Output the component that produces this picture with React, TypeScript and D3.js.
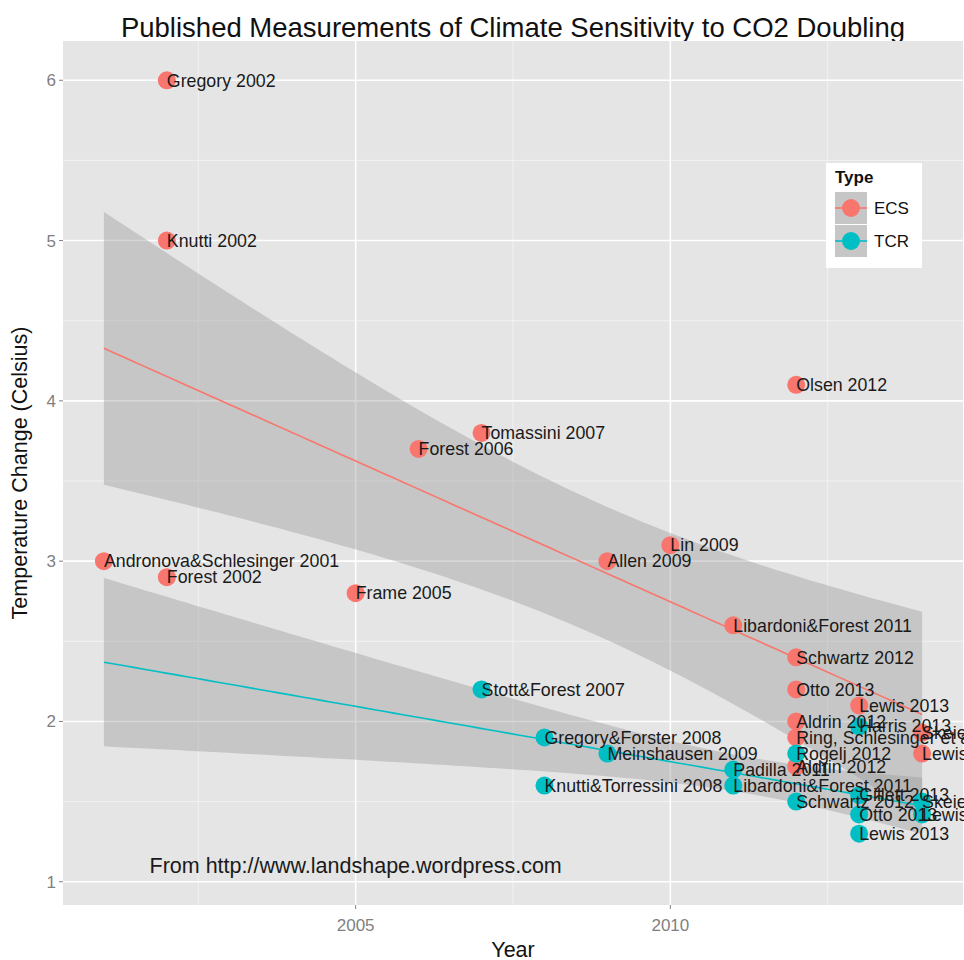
import React from 'react';
import * as d3 from 'd3';

// ECS measurements (year on the x axis, value in Celsius)
const ecsLabels = [
  'Andronova&Schlesinger 2001', 'Gregory 2002', 'Knutti 2002', 'Forest 2002',
  'Frame 2005', 'Forest 2006', 'Tomassini 2007', 'Allen 2009', 'Lin 2009',
  'Libardoni&Forest 2011', 'Olsen 2012', 'Schwartz 2012', 'Otto 2013',
  'Aldrin 2012', 'Ring, Schlesinger et al 2012', 'Aldrin 2012', 'Lewis 2013',
  'Lewis 2014', 'Skeie 2014',
];
const ecsYears = [2001, 2002, 2002, 2002, 2005, 2006, 2007, 2009, 2010, 2011, 2012, 2012, 2012, 2012, 2012, 2012, 2013, 2014, 2014];
const ecsValues = [3.0, 6.0, 5.0, 2.9, 2.8, 3.7, 3.8, 3.0, 3.1, 2.6, 4.1, 2.4, 2.2, 2.0, 1.9, 1.72, 2.1, 1.8, 1.93];

// TCR measurements
const tcrLabels = [
  'Stott&Forest 2007', 'Gregory&Forster 2008', 'Knutti&Torressini 2008',
  'Meinshausen 2009', 'Padilla 2011', 'Libardoni&Forest 2011', 'Rogelj 2012',
  'Schwartz 2012', 'Harris 2013', 'Gillett 2013', 'Otto 2013', 'Lewis 2013',
  'Skeie 2014', 'Lewis 2014',
];
const tcrYears = [2007, 2008, 2008, 2009, 2011, 2011, 2012, 2012, 2013, 2013, 2013, 2013, 2014, 2014];
const tcrValues = [2.2, 1.9, 1.6, 1.8, 1.7, 1.6, 1.8, 1.5, 1.97, 1.54, 1.42, 1.3, 1.5, 1.42];

const xTicks = [2005, 2010];
const xMinor = [2002.5, 2007.5, 2012.5];
const yTicks = [1, 2, 3, 4, 5, 6];
const yMinor = [1.5, 2.5, 3.5, 4.5, 5.5];

const ECS = '#F8766D';
const TCR = '#00BFC4';
const FONT = '"Liberation Sans", Arial, Helvetica, sans-serif';

// log gamma (Stirling with shift)
function lnGamma(z: number): number {
  let shift = 0;
  while (z < 7) {
    shift -= Math.log(z);
    z += 1;
  }
  return (
    shift + (z - 0.5) * Math.log(z) - z + 0.5 * Math.log(2 * Math.PI) +
    1 / (12 * z) - 1 / (360 * z ** 3) + 1 / (1260 * z ** 5)
  );
}

function tQuantile(p: number, df: number): number {
  const c = Math.exp(lnGamma((df + 1) / 2) - lnGamma(df / 2)) / Math.sqrt(df * Math.PI);
  const pdf = (t: number) => c * Math.pow(1 + (t * t) / df, -(df + 1) / 2);
  const half = (q: number) => {
    const n = 400;
    const h = q / n;
    let s = pdf(0) + pdf(q);
    for (let i = 1; i < n; i++) s += (i % 2 ? 4 : 2) * pdf(i * h);
    return (s * h) / 3;
  };
  let lo = 0, hi = 20;
  for (let i = 0; i < 60; i++) {
    const mid = (lo + hi) / 2;
    if (0.5 + half(mid) < p) lo = mid;
    else hi = mid;
  }
  return (lo + hi) / 2;
}

// linear fit with 95% confidence band, like geom_smooth(method = "lm", fullrange = TRUE)
function lmBand(xs: number[], ys: number[], from: number, to: number) {
  const n = xs.length;
  const mx = d3.mean(xs)!;
  const my = d3.mean(ys)!;
  const sxx = d3.sum(xs, (x) => (x - mx) ** 2);
  const sxy = d3.sum(xs, (x, i) => (x - mx) * (ys[i] - my));
  const b = sxy / sxx;
  const a = my - b * mx;
  const sse = d3.sum(xs, (x, i) => (ys[i] - a - b * x) ** 2);
  const s = Math.sqrt(sse / (n - 2));
  const t = tQuantile(0.975, n - 2);
  return d3.range(80).map((i) => {
    const x = from + ((to - from) * i) / 79;
    const fit = a + b * x;
    const se = s * Math.sqrt(1 / n + (x - mx) ** 2 / sxx);
    return { x, fit, lo: fit - t * se, hi: fit + t * se };
  });
}

const App: React.FC = () => {
  const width = 964;
  const height = 960;
  const left = 63, right = 963, top = 41, bottom = 905;

  const x = d3.scaleLinear().domain([2000.35, 2014.65]).range([left, right]);
  const y = d3.scaleLinear().domain([0.855, 6.245]).range([bottom, top]);

  const allYears = [...ecsYears, ...tcrYears];
  const x0 = d3.min(allYears)!;
  const x1 = d3.max(allYears)!;
  const ecsBand = lmBand(ecsYears, ecsValues, x0, x1);
  const tcrBand = lmBand(tcrYears, tcrValues, x0, x1);

  type B = { x: number; fit: number; lo: number; hi: number };
  const area = d3.area<B>().x((d) => x(d.x)).y0((d) => y(d.lo)).y1((d) => y(d.hi));
  const line = d3.line<B>().x((d) => x(d.x)).y((d) => y(d.fit));

  const series = [
    { labels: ecsLabels, years: ecsYears, values: ecsValues, color: ECS, band: ecsBand },
    { labels: tcrLabels, years: tcrYears, values: tcrValues, color: TCR, band: tcrBand },
  ];

  const legendItems = [
    { name: 'ECS', color: ECS },
    { name: 'TCR', color: TCR },
  ];

  return (
    <svg
      width={width}
      height={height}
      style={{ position: 'absolute', left: 0, top: 0, background: '#fff' }}
      fontFamily={FONT}
    >
      <defs>
        <clipPath id="panel">
          <rect x={left} y={top} width={right - left} height={bottom - top} />
        </clipPath>
      </defs>
      <text x={(left + right) / 2} y={37} textAnchor="middle" fontSize={27.5} fill="#111">
        Published Measurements of Climate Sensitivity to CO2 Doubling
      </text>

      <rect x={left} y={top} width={right - left} height={bottom - top} fill="#E5E5E5" />
      {yMinor.map((v) => (
        <line key={'ym' + v} x1={left} x2={right} y1={y(v)} y2={y(v)} stroke="#F2F2F2" strokeWidth={1} />
      ))}
      {xMinor.map((v) => (
        <line key={'xm' + v} x1={x(v)} x2={x(v)} y1={top} y2={bottom} stroke="#F2F2F2" strokeWidth={1} />
      ))}
      {yTicks.map((v) => (
        <line key={'y' + v} x1={left} x2={right} y1={y(v)} y2={y(v)} stroke="#fff" strokeWidth={1.6} />
      ))}
      {xTicks.map((v) => (
        <line key={'x' + v} x1={x(v)} x2={x(v)} y1={top} y2={bottom} stroke="#fff" strokeWidth={1.6} />
      ))}

      <g clipPath="url(#panel)">
        {series.map((s) => (
          <path key={'band' + s.color} d={area(s.band)!} fill="#999999" fillOpacity={0.4} />
        ))}
        {series.map((s) => (
          <path key={'fit' + s.color} d={line(s.band)!} fill="none" stroke={s.color} strokeWidth={1.6} />
        ))}
        {series.map((s) =>
          s.years.map((yr, i) => (
            <circle key={s.color + i} cx={x(yr)} cy={y(s.values[i])} r={9} fill={s.color} />
          )),
        )}
      </g>
      {series.map((s) =>
        s.years.map((yr, i) => (
          <text
            key={'t' + s.color + i}
            x={x(yr)}
            y={y(s.values[i])}
            dy="0.35em"
            fontSize={17.8}
            fill="#1a1a1a"
          >
            {s.labels[i]}
          </text>
        )),
      )}
      <text x={x(2005)} y={y(1.1)} dy="0.35em" textAnchor="middle" fontSize={21.5} fill="#1a1a1a">
        From http://www.landshape.wordpress.com
      </text>

      {/* axes */}
      {yTicks.map((v) => (
        <g key={'ya' + v}>
          <line x1={left - 4} x2={left} y1={y(v)} y2={y(v)} stroke="#7F7F7F" />
          <text x={left - 7} y={y(v)} dy="0.35em" textAnchor="end" fontSize={17} fill="#7F7F7F">
            {v}
          </text>
        </g>
      ))}
      {xTicks.map((v) => (
        <g key={'xa' + v}>
          <line x1={x(v)} x2={x(v)} y1={bottom} y2={bottom + 4} stroke="#7F7F7F" />
          <text x={x(v)} y={bottom + 26} textAnchor="middle" fontSize={17} fill="#7F7F7F">
            {v}
          </text>
        </g>
      ))}
      <text x={(left + right) / 2} y={957} textAnchor="middle" fontSize={21.5} fill="#111">
        Year
      </text>
      <text
        transform={`translate(27,${(top + bottom) / 2}) rotate(-90)`}
        textAnchor="middle"
        fontSize={21.5}
        fill="#111"
      >
        Temperature Change (Celsius)
      </text>

      {/* legend */}
      <g transform="translate(826,163)">
        <rect width={96} height={105} fill="#fff" />
        <text x={9} y={20} fontSize={17} fontWeight="bold" fill="#111">
          Type
        </text>
        {legendItems.map((d, i) => (
          <g key={d.name} transform={`translate(9,${29 + i * 33})`}>
            <rect width={32} height={32} fill="#E5E5E5" />
            <rect width={32} height={32} fill="#999999" fillOpacity={0.4} />
            <line x1={0} x2={32} y1={16} y2={16} stroke={d.color} strokeWidth={1.6} />
            <circle cx={16} cy={16} r={9} fill={d.color} />
            <text x={39} y={16} dy="0.35em" fontSize={17} fill="#111">
              {d.name}
            </text>
          </g>
        ))}
      </g>
    </svg>
  );
};

export default App;
